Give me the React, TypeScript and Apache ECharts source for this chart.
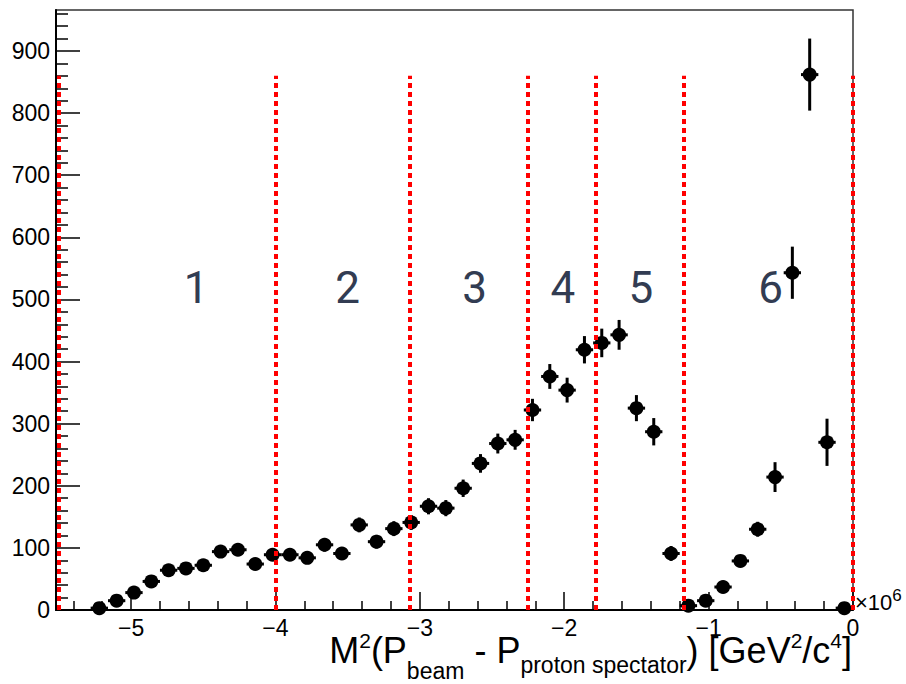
import React, { useEffect, useRef } from "react";
import * as echarts from "echarts";

// ---- data ----
const binCenters = [
  -5.22, -5.1, -4.98, -4.86, -4.74, -4.62, -4.5, -4.38, -4.26, -4.14, -4.02,
  -3.9, -3.78, -3.66, -3.54, -3.42, -3.3, -3.18, -3.06, -2.94, -2.82, -2.7,
  -2.58, -2.46, -2.34, -2.22, -2.1, -1.98, -1.86, -1.74, -1.62, -1.5, -1.38,
  -1.26, -1.14, -1.02, -0.9, -0.78, -0.66, -0.54, -0.42, -0.3, -0.18, -0.06,
];
const counts = [
  3, 15, 28, 46, 64, 67, 72, 94, 97, 74, 89, 89, 84, 105, 91, 137, 110, 131,
  141, 167, 164, 196, 236, 268, 274, 322, 376, 354, 419, 430, 443, 325, 287,
  91, 7, 15, 37, 79, 130, 214, 543, 862, 270, 3,
];
const errors = [
  2, 4, 6, 7, 8, 8, 9, 10, 10, 9, 10, 10, 10, 11, 10, 12, 11, 12, 12, 13, 13,
  14, 15, 16, 16, 18, 20, 20, 22, 23, 24, 21, 22, 12, 3, 5, 7, 9, 12, 24, 42,
  58, 38, 2,
];
const BIN_WIDTH = 0.12;
const X_MIN = -5.52;
const X_MAX = 0;
const Y_MIN = 0;
const Y_MAX = 966;

const cutValues = [-5.5, -4.0, -3.07, -2.25, -1.78, -1.17, 0];
const CUT_TOP = 860;

const regionLabels = ["1", "2", "3", "4", "5", "6"];
const regionLabelX = [-4.55, -3.5, -2.62, -2.01, -1.47, -0.57];
const REGION_LABEL_Y = 518;

const xMajorTicks = [-5, -4, -3, -2, -1, 0];
const xMinorTicks = [
  -5.4, -5.2, -4.8, -4.6, -4.4, -4.2, -3.8, -3.6, -3.4, -3.2, -2.8, -2.6, -2.4,
  -2.2, -1.8, -1.6, -1.4, -1.2, -0.8, -0.6, -0.4, -0.2,
];
const yMajorTicks = [0, 100, 200, 300, 400, 500, 600, 700, 800, 900];
const yMinorTicks = [
  20, 40, 60, 80, 120, 140, 160, 180, 220, 240, 260, 280, 320, 340, 360, 380,
  420, 440, 460, 480, 520, 540, 560, 580, 620, 640, 660, 680, 720, 740, 760,
  780, 820, 840, 860, 880, 920, 940, 960,
];

const FONT = "'Liberation Sans', Arial, Helvetica, sans-serif";

export default function App() {
  const ref = useRef<HTMLDivElement>(null);

  useEffect(() => {
    if (!ref.current) return;
    const chart = echarts.init(ref.current, undefined, { renderer: "svg" });

    const fmt = (v: number) =>
      v < 0 ? "\u2212" + String(Math.abs(v)) : String(v);

    const tickLine = { color: "#000", width: 1.5 };

    const option: any = {
      animation: false,
      backgroundColor: "#fff",
      textStyle: { fontFamily: FONT },
      grid: {
        left: 56,
        right: 53,
        top: 10,
        bottom: 74,
        show: true,
        borderColor: "#333",
        borderWidth: 1.5,
        backgroundColor: "transparent",
        containLabel: false,
        outerBoundsMode: "none",
      },
      xAxis: [
        {
          type: "value",
          min: X_MIN,
          max: X_MAX,
          position: "bottom",
          axisLine: { show: true, onZero: false, lineStyle: { color: "#000", width: 2 } },
          axisTick: {
            show: true,
            inside: true,
            length: 18,
            customValues: xMajorTicks,
            lineStyle: tickLine,
          },
          axisLabel: {
            show: true,
            customValues: xMajorTicks,
            formatter: fmt,
            fontSize: 23,
            color: "#000",
            fontFamily: FONT,
            margin: 6,
          },
          splitLine: { show: false },
        },
        {
          type: "value",
          min: X_MIN,
          max: X_MAX,
          position: "bottom",
          axisLine: { show: false, onZero: false },
          axisTick: {
            show: true,
            inside: true,
            length: 9,
            customValues: xMinorTicks,
            lineStyle: tickLine,
          },
          axisLabel: { show: false },
          splitLine: { show: false },
        },
      ],
      yAxis: [
        {
          type: "value",
          min: Y_MIN,
          max: Y_MAX,
          position: "left",
          axisLine: { show: true, onZero: false, lineStyle: { color: "#000", width: 2 } },
          axisTick: {
            show: true,
            inside: true,
            length: 24,
            customValues: yMajorTicks,
            lineStyle: tickLine,
          },
          axisLabel: {
            show: true,
            customValues: yMajorTicks,
            fontSize: 23,
            color: "#000",
            fontFamily: FONT,
            margin: 6,
          },
          splitLine: { show: false },
        },
        {
          type: "value",
          min: Y_MIN,
          max: Y_MAX,
          position: "left",
          axisLine: { show: false, onZero: false },
          axisTick: {
            show: true,
            inside: true,
            length: 12,
            customValues: yMinorTicks,
            lineStyle: tickLine,
          },
          axisLabel: { show: false },
          splitLine: { show: false },
        },
      ],
      series: [
        {
          type: "custom",
          name: "errors",
          silent: true,
          z: 2,
          data: binCenters.map((x, i) => [x, counts[i], errors[i]]),
          encode: { x: 0, y: 1 },
          renderItem: (params: any, api: any) => {
            const x = api.value(0);
            const y = api.value(1);
            const e = api.value(2);
            const top = api.coord([x, y + e]);
            const bot = api.coord([x, y - e]);
            const l = api.coord([x - BIN_WIDTH / 2, y]);
            const r = api.coord([x + BIN_WIDTH / 2, y]);
            return {
              type: "group",
              children: [
                {
                  type: "line",
                  shape: { x1: top[0], y1: top[1], x2: bot[0], y2: bot[1] },
                  style: { stroke: "#000", lineWidth: 3 },
                },
                {
                  type: "line",
                  shape: { x1: l[0], y1: l[1], x2: r[0], y2: r[1] },
                  style: { stroke: "#000", lineWidth: 3 },
                },
              ],
            };
          },
        },
        {
          type: "scatter",
          name: "counts",
          silent: true,
          z: 3,
          symbol: "circle",
          symbolSize: 14,
          itemStyle: { color: "#000", opacity: 1 },
          data: binCenters.map((x, i) => [x, counts[i]]),
          markLine: {
            silent: true,
            symbol: "none",
            label: { show: false },
            lineStyle: { color: "#ff0000", width: 4, type: [5, 4], opacity: 1 },
            emphasis: { disabled: true },
            data: cutValues.map((c) => [
              { coord: [c, 0] },
              { coord: [c, CUT_TOP] },
            ]),
          },
        },
        {
          type: "custom",
          name: "regions",
          silent: true,
          z: 4,
          data: regionLabelX.map((x, i) => [x, REGION_LABEL_Y, i]),
          encode: { x: 0, y: 1 },
          renderItem: (params: any, api: any) => {
            const p = api.coord([api.value(0), api.value(1)]);
            const idx = api.value(2);
            return {
              type: "text",
              style: {
                text: regionLabels[idx],
                x: p[0],
                y: p[1],
                align: "center",
                verticalAlign: "middle",
                fontSize: 44,
                fontFamily: "Roboto, 'Noto Sans', sans-serif",
                fill: "#323c52",
              },
            };
          },
        },
      ],
      graphic: [
        {
          type: "text",
          x: 852,
          y: 684,
          silent: true,
          style: {
            text:
              "{n|M}{sup|2}{n|(P}{subb|beam}{n| - P}{subp|proton spectator}{n|) [GeV}{sup|2}{n|/c}{sup|4}{n|]}",
            align: "right",
            verticalAlign: "bottom",
            fill: "#000",
            rich: {
              n: { fontSize: 36, fontFamily: FONT, fill: "#000", height: 67, verticalAlign: "bottom" },
              sup: { fontSize: 21, fontFamily: FONT, fill: "#000", height: 87, verticalAlign: "bottom" },
              subp: { fontSize: 23, fontFamily: FONT, fill: "#000", height: 38, verticalAlign: "bottom" },
              subb: { fontSize: 23, fontFamily: FONT, fill: "#000", height: 26, verticalAlign: "bottom" },
            },
          },
        },
        {
          type: "text",
          x: 855,
          y: 580,
          silent: true,
          style: {
            text: "{a|\u00d710}{b|6}",
            align: "left",
            verticalAlign: "top",
            fill: "#000",
            rich: {
              a: { fontSize: 22, fontFamily: FONT, fill: "#000", height: 45, verticalAlign: "top" },
              b: { fontSize: 17, fontFamily: FONT, fill: "#000", height: 31, verticalAlign: "top" },
            },
          },
        },
      ],
    };

    chart.setOption(option);
    return () => {
      chart.dispose();
    };
  }, []);

  return (
    <div
      ref={ref}
      style={{ position: "fixed", left: 0, top: 0, width: 906, height: 684 }}
    />
  );
}
